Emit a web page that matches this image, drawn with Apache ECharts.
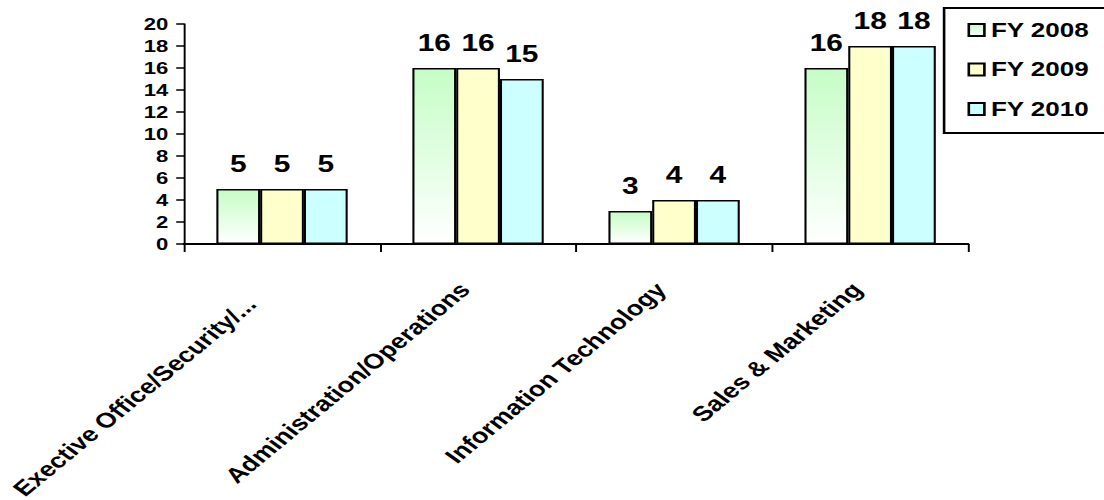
<!DOCTYPE html>
<html>
<head>
<meta charset="utf-8">
<script src="https://cdn.jsdelivr.net/npm/echarts/dist/echarts.min.js"></script>
<style>
  html, body { margin: 0; padding: 0; background: #ffffff; overflow: hidden; }
  #wrap { width: 1104px; height: 500px; overflow: hidden; position: relative; }
  #chart { width: 849px; height: 500px; transform-origin: 0 0; transform: scaleX(1.3004); }
</style>
</head>
<body>
<div id="wrap"><div id="chart"></div></div>
<script>
const categories = ['Exective Office/Security/...', 'Administration/Operations', 'Information Technology', 'Sales & Marketing'];
const seriesNames = ['FY 2008', 'FY 2009', 'FY 2010'];
const fy2008 = [5, 16, 3, 16];
const fy2009 = [5, 16, 4, 18];
const fy2010 = [5, 15, 4, 18];
const yTicks = [0, 2, 4, 6, 8, 10, 12, 14, 16, 18, 20];

const FONT = '"Liberation Sans", Arial, sans-serif';
const chart = echarts.init(document.getElementById('chart'), null, { renderer: 'svg' });

const fills = [
  new echarts.graphic.LinearGradient(0, 0, 0, 1, [
    { offset: 0, color: '#c6fdc6' },
    { offset: 0.5, color: '#e2fee2' },
    { offset: 1, color: '#ffffff' }
  ]),
  '#ffffcc',
  '#ccffff'
];
const values = [fy2008, fy2009, fy2010];

const catData = categories.map((c, i) => ({
  value: c,
  textStyle: { padding: [0, i === 0 ? 35 : 15, 0, 0] }
}));

chart.setOption({
  backgroundColor: '#ffffff',
  animation: false,
  grid: { left: 141.5, right: 104.5, top: 24, bottom: 256, containLabel: false, outerBoundsMode: 'none' },
  graphic: [{
    type: 'polyline',
    x: 726,
    y: 8,
    shape: { points: [[300, 0], [0, 0], [0, 125], [300, 125]] },
    style: { fill: 'none', stroke: '#000', lineWidth: 2 },
    silent: true
  }],
  legend: {
    orient: 'vertical',
    left: 744,
    top: 20,
    padding: 0,
    itemGap: 19.5,
    itemWidth: 12,
    itemHeight: 12,
    icon: 'rect',
    textStyle: { fontFamily: FONT, fontWeight: 'bold', fontSize: 20, color: '#000', lineHeight: 20 },
    data: seriesNames
  },
  xAxis: {
    type: 'category',
    data: catData,
    axisLine: { lineStyle: { color: '#000', width: 2 } },
    axisTick: { show: true, alignWithLabel: false, length: 8, lineStyle: { color: '#000', width: 1.5 } },
    axisLabel: {
      interval: 0,
      rotate: 47,
      margin: 31,
      fontFamily: FONT,
      fontWeight: 'bold',
      fontSize: 21,
      color: '#000'
    },
    splitLine: { show: false }
  },
  yAxis: {
    type: 'value',
    min: yTicks[0],
    max: yTicks[yTicks.length - 1],
    interval: 2,
    axisLine: { show: true, lineStyle: { color: '#000', width: 1.5 } },
    axisTick: { show: true, inside: false, length: 6, lineStyle: { color: '#000', width: 1.5 } },
    axisLabel: { margin: 12, fontFamily: FONT, fontWeight: 'bold', fontSize: 17, color: '#000' },
    splitLine: { show: false }
  },
  series: seriesNames.map((name, i) => ({
    name: name,
    type: 'bar',
    data: values[i],
    barGap: '0%',
    barCategoryGap: '33%',
    itemStyle: { color: fills[i], borderColor: '#000', borderWidth: 1.6 },
    label: {
      show: true,
      position: 'top',
      distance: 13,
      fontFamily: FONT,
      fontWeight: 'bold',
      fontSize: 23,
      color: '#000'
    }
  }))
});
</script>
</body>
</html>
